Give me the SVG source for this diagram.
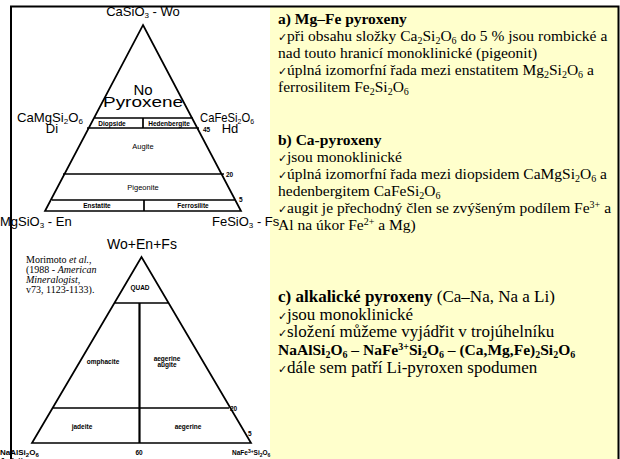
<svg xmlns="http://www.w3.org/2000/svg" width="620" height="459" viewBox="0 0 620 459">
<style>
.s{font-family:"Liberation Sans","DejaVu Sans",sans-serif;fill:#000}
.big{font-size:13px}
.sm{font-size:6.5px;font-weight:bold}
.t{font-family:"Liberation Serif","DejaVu Serif",serif;font-size:15.5px;fill:#000}
.tc{font-size:17px}
.r{font-family:"Liberation Serif","DejaVu Serif",serif;font-size:10px;fill:#000}
.b{font-weight:bold}
.ln{stroke:#000;stroke-width:1.7;fill:none}
.ck{font-size:11px}
.sb{font-size:10px}
</style>
<rect x="0" y="0" width="620" height="459" fill="#fff"/>
<rect id="panel" x="270" y="7" width="348" height="460" fill="#ffffcc"/>
<g id="frame">
<path d="M11,470 V6.5 H618.5 V470" stroke="#000" stroke-width="2" fill="none"/>
</g>
<g id="top-triangle">
<path class="ln" d="M143,25 L241,211 L45,211 Z M94,118 H193 M87,128 H199 M143,118 V128 M63,174 H224 M52,200 H235 M144,200 V211"/>
<text class="s big" x="143" y="16" text-anchor="middle">CaSiO<tspan font-size="8" dy="2">3</tspan><tspan dy="-2"> - Wo</tspan></text>
<text class="s" font-size="15" x="143" y="95" text-anchor="middle">No</text>
<text class="s" font-size="15" x="143" y="107" text-anchor="middle" textLength="80" lengthAdjust="spacingAndGlyphs">Pyroxene</text>
<text class="s big" x="17" y="122" textLength="66" lengthAdjust="spacingAndGlyphs">CaMgSi<tspan font-size="8" dy="2">2</tspan><tspan dy="-2">O</tspan><tspan font-size="8" dy="2">6</tspan></text>
<text class="s big" x="52" y="133" text-anchor="middle">Di</text>
<text class="s big" x="200" y="122" textLength="54" lengthAdjust="spacingAndGlyphs">CaFeSi<tspan font-size="8" dy="2">2</tspan><tspan dy="-2">O</tspan><tspan font-size="8" dy="2">6</tspan></text>
<text class="s big" x="230" y="133" text-anchor="middle">Hd</text>
<text class="s sm" x="112" y="126" text-anchor="middle">Diopside</text>
<text class="s sm" x="169" y="126" text-anchor="middle">Hedenbergite</text>
<text class="s sm" x="203" y="132">45</text>
<text class="s" font-size="7.5" x="143" y="149" text-anchor="middle">Augite</text>
<text class="s sm" x="226" y="177">20</text>
<text class="s" font-size="7.5" x="143" y="190" text-anchor="middle">Pigeonite</text>
<text class="s sm" x="97" y="208" text-anchor="middle">Enstatite</text>
<text class="s sm" x="193" y="208" text-anchor="middle">Ferrosilite</text>
<text class="s sm" x="239" y="202">5</text>
<text class="s big" x="0" y="226">MgSiO<tspan font-size="8" dy="2">3</tspan><tspan dy="-2"> - En</tspan></text>
<text class="s big" x="212" y="226">FeSiO<tspan font-size="8" dy="2">3</tspan><tspan dy="-2"> - Fs</tspan></text>
</g>
<g id="bottom-triangle">
<text class="s" font-size="14" x="142" y="249" text-anchor="middle">Wo+En+Fs</text>
<path class="ln" d="M141.5,257 L251,443 L32,443 Z M114,303 H168 M53,408 H229"/>
<path d="M139.5,303 V443" stroke="#000" stroke-width="2.2"/>
<text class="s sm" x="140" y="290" text-anchor="middle">QUAD</text>
<text class="s sm" x="103" y="364" text-anchor="middle">omphacite</text>
<text class="s sm" x="167" y="361" text-anchor="middle">aegerine</text>
<text class="s sm" x="167" y="367" text-anchor="middle">augite</text>
<text class="s sm" x="82" y="429" text-anchor="middle">jadeite</text>
<text class="s sm" x="188" y="429" text-anchor="middle">aegerine</text>
<text class="s sm" x="230" y="411">20</text>
<text class="s sm" x="248" y="436">5</text>
<text class="s sm" x="139" y="455" text-anchor="middle">60</text>
<text class="s sm" style="font-size:8px" x="0" y="455">NaAlSi<tspan font-size="6" dy="1.5">2</tspan><tspan dy="-1.5">O</tspan><tspan font-size="6" dy="1.5">6</tspan></text>
<text class="s sm" style="font-size:8px" x="0" y="463">Jadeite</text>
<text class="s sm" x="232" y="455">NaFe<tspan font-size="5" dy="-2">3+</tspan><tspan dy="2">Si</tspan><tspan font-size="5" dy="1.5">2</tspan><tspan dy="-1.5">O</tspan><tspan font-size="5" dy="1.5">6</tspan></text>
</g>
<g id="reference">
<text class="r" x="26" y="263">Morimoto <tspan font-style="italic">et al.</tspan>,</text>
<text class="r" x="26" y="273">(1988 - <tspan font-style="italic">American</tspan></text>
<text class="r" x="26" y="283"><tspan font-style="italic">Mineralogist</tspan>,</text>
<text class="r" x="26" y="293">v73, 1123-1133).</text>
</g>
<g id="text-a">
<text class="t b" x="278" y="24">a) Mg–Fe pyroxeny</text>
<text class="t" x="278" y="41"><tspan class="ck">✓</tspan>při obsahu složky Ca<tspan class="sb" dy="3">2</tspan><tspan dy="-3">Si</tspan><tspan class="sb" dy="3">2</tspan><tspan dy="-3">O</tspan><tspan class="sb" dy="3">6</tspan><tspan dy="-3"> do 5 % jsou rombické a</tspan></text>
<text class="t" x="278" y="58">nad touto hranicí monoklinické (pigeonit)</text>
<text class="t" x="278" y="75"><tspan class="ck">✓</tspan>úplná izomorfní řada mezi enstatitem Mg<tspan class="sb" dy="3">2</tspan><tspan dy="-3">Si</tspan><tspan class="sb" dy="3">2</tspan><tspan dy="-3">O</tspan><tspan class="sb" dy="3">6</tspan><tspan dy="-3"> a</tspan></text>
<text class="t" x="278" y="92">ferrosilitem Fe<tspan class="sb" dy="3">2</tspan><tspan dy="-3">Si</tspan><tspan class="sb" dy="3">2</tspan><tspan dy="-3">O</tspan><tspan class="sb" dy="3">6</tspan></text>
</g>
<g id="text-b">
<text class="t b" x="278" y="145">b) Ca-pyroxeny</text>
<text class="t" x="278" y="162"><tspan class="ck">✓</tspan>jsou monoklinické</text>
<text class="t" x="278" y="179"><tspan class="ck">✓</tspan>úplná izomorfní řada mezi diopsidem CaMgSi<tspan class="sb" dy="3">2</tspan><tspan dy="-3">O</tspan><tspan class="sb" dy="3">6</tspan><tspan dy="-3"> a</tspan></text>
<text class="t" x="278" y="196">hedenbergitem CaFeSi<tspan class="sb" dy="3">2</tspan><tspan dy="-3">O</tspan><tspan class="sb" dy="3">6</tspan></text>
<text class="t" x="278" y="213"><tspan class="ck">✓</tspan>augit je přechodný člen se zvýšeným podílem Fe<tspan class="sb" dy="-5">3+</tspan><tspan dy="5"> a</tspan></text>
<text class="t" x="278" y="230">Al na úkor Fe<tspan class="sb" dy="-5">2+</tspan><tspan dy="5"> a Mg)</tspan></text>
</g>
<g id="text-c">
<text class="t tc" x="278" y="302"><tspan class="b">c) alkalické pyroxeny</tspan> (Ca–Na, Na a Li)</text>
<text class="t tc" x="278" y="319.5"><tspan class="ck">✓</tspan>jsou monoklinické</text>
<text class="t tc" x="278" y="337"><tspan class="ck">✓</tspan>složení můžeme vyjádřit v trojúhelníku</text>
<text class="t b" x="278" y="355">NaAlSi<tspan class="sb" dy="3">2</tspan><tspan dy="-3">O</tspan><tspan class="sb" dy="3">6</tspan><tspan dy="-3"> – NaFe</tspan><tspan class="sb" dy="-5">3+</tspan><tspan dy="5">Si</tspan><tspan class="sb" dy="3">2</tspan><tspan dy="-3">O</tspan><tspan class="sb" dy="3">6</tspan><tspan dy="-3"> – (Ca,Mg,Fe)</tspan><tspan class="sb" dy="3">2</tspan><tspan dy="-3">Si</tspan><tspan class="sb" dy="3">2</tspan><tspan dy="-3">O</tspan><tspan class="sb" dy="3">6</tspan></text>
<text class="t tc" x="278" y="372.5"><tspan class="ck">✓</tspan>dále sem patří Li-pyroxen spodumen</text>
</g>
</svg>
